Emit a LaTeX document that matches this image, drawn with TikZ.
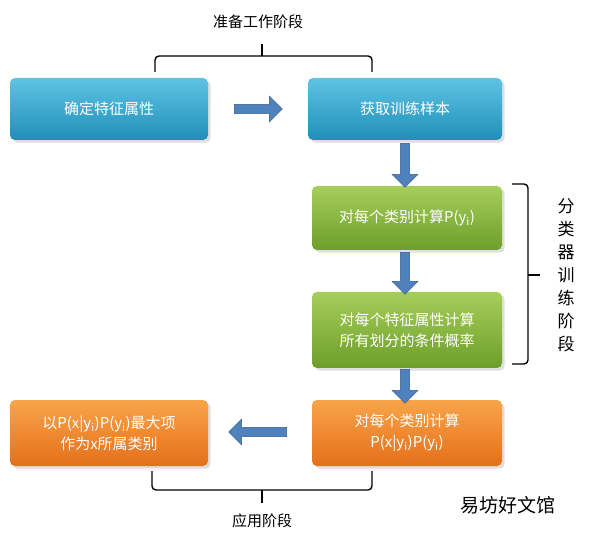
\documentclass[tikz,border=0pt]{standalone}
\usepackage{fontspec}
\setmainfont{Noto Sans CJK SC}
\usetikzlibrary{shapes.arrows,positioning,shadows}
\definecolor{bluetop}{HTML}{5FC3E4}
\definecolor{bluebot}{HTML}{1F8FB8}
\definecolor{greentop}{HTML}{A6CE5A}
\definecolor{greenbot}{HTML}{6E9E2A}
\definecolor{orangetop}{HTML}{F9A44A}
\definecolor{orangebot}{HTML}{E4701A}
\definecolor{arrowblue}{HTML}{4F81BD}
\tikzset{font=\fontsize{15}{21}\selectfont}
\tikzstyle{box}=[rounded corners=5pt,minimum height=62pt,text=white,align=center,drop shadow={opacity=0.25}]
\tikzstyle{bluebox}=[box,top color=bluetop,bottom color=bluebot]
\tikzstyle{greenbox}=[box,top color=greentop,bottom color=greenbot]
\tikzstyle{orangebox}=[box,top color=orangetop,bottom color=orangebot]
\tikzstyle{fat}=[single arrow,fill=arrowblue,draw=arrowblue!70!black,minimum height=48pt,minimum width=26pt,single arrow head extend=4pt,inner sep=2pt]
\tikzstyle{brace}=[line width=1.4pt,rounded corners=4pt]

\begin{document}
\begin{tikzpicture}[x=1pt,y=-1pt]
	\useasboundingbox (0,0) rectangle (600,537);
	\node [bluebox,minimum width=198pt] (feat) at (109, 109) {确定特征属性};
	\node [bluebox,minimum width=194pt] (sample) at (405, 109) {获取训练样本};
	\node [greenbox,minimum width=190pt,minimum height=64pt] (prior) at (407, 218) {对每个类别计算P(y$_\mathrm{i}$)};
	\node [greenbox,minimum width=190pt,minimum height=76pt] (cond) at (407, 330) {对每个特征属性计算\\所有划分的条件概率};
	\node [orangebox,minimum width=190pt,minimum height=66pt] (post) at (407, 433) {对每个类别计算\\P(x|y$_\mathrm{i}$)P(y$_\mathrm{i}$)};
	\node [orangebox,minimum width=198pt,minimum height=66pt] (decide) at (109, 433) {以P(x|y$_\mathrm{i}$)P(y$_\mathrm{i}$)最大项\\作为x所属类别};
	% fat arrows
	\node [fat] (a1) at (256, 109) {};
	\node [fat,shape border rotate=270,minimum height=44pt] (a2) at (405, 163) {};
	\node [fat,shape border rotate=270,minimum height=42pt] (a3) at (405, 271) {};
	\node [fat,shape border rotate=270,minimum height=34pt] (a4) at (405, 384) {};
	\node [fat,shape border rotate=180,minimum height=58pt] (a5) at (260, 432) {};
	% braces
	\node (prep) at (258, 22) {准备工作阶段};
	\draw [brace] (155, 72) -- (155, 56) -- (372, 56) -- (372, 72);
	\draw [line width=1.4pt] (262, 56) -- (262, 44);
	\node [align=center,font=\fontsize{17}{23}\selectfont] (train) at (566, 275) {分\\类\\器\\训\\练\\阶\\段};
	\draw [brace] (512, 184) -- (528, 184) -- (528, 364) -- (512, 364);
	\draw [line width=1.4pt] (528, 275) -- (540, 275);
	\node (apply) at (262, 521) {应用阶段};
	\draw [brace] (152, 471) -- (152, 490) -- (372, 490) -- (372, 471);
	\draw [line width=1.4pt] (262, 490) -- (262, 503);
	\node [font=\fontsize{19}{22}\selectfont] (mark) at (508, 505) {易坊好文馆};
\end{tikzpicture}
\end{document}
